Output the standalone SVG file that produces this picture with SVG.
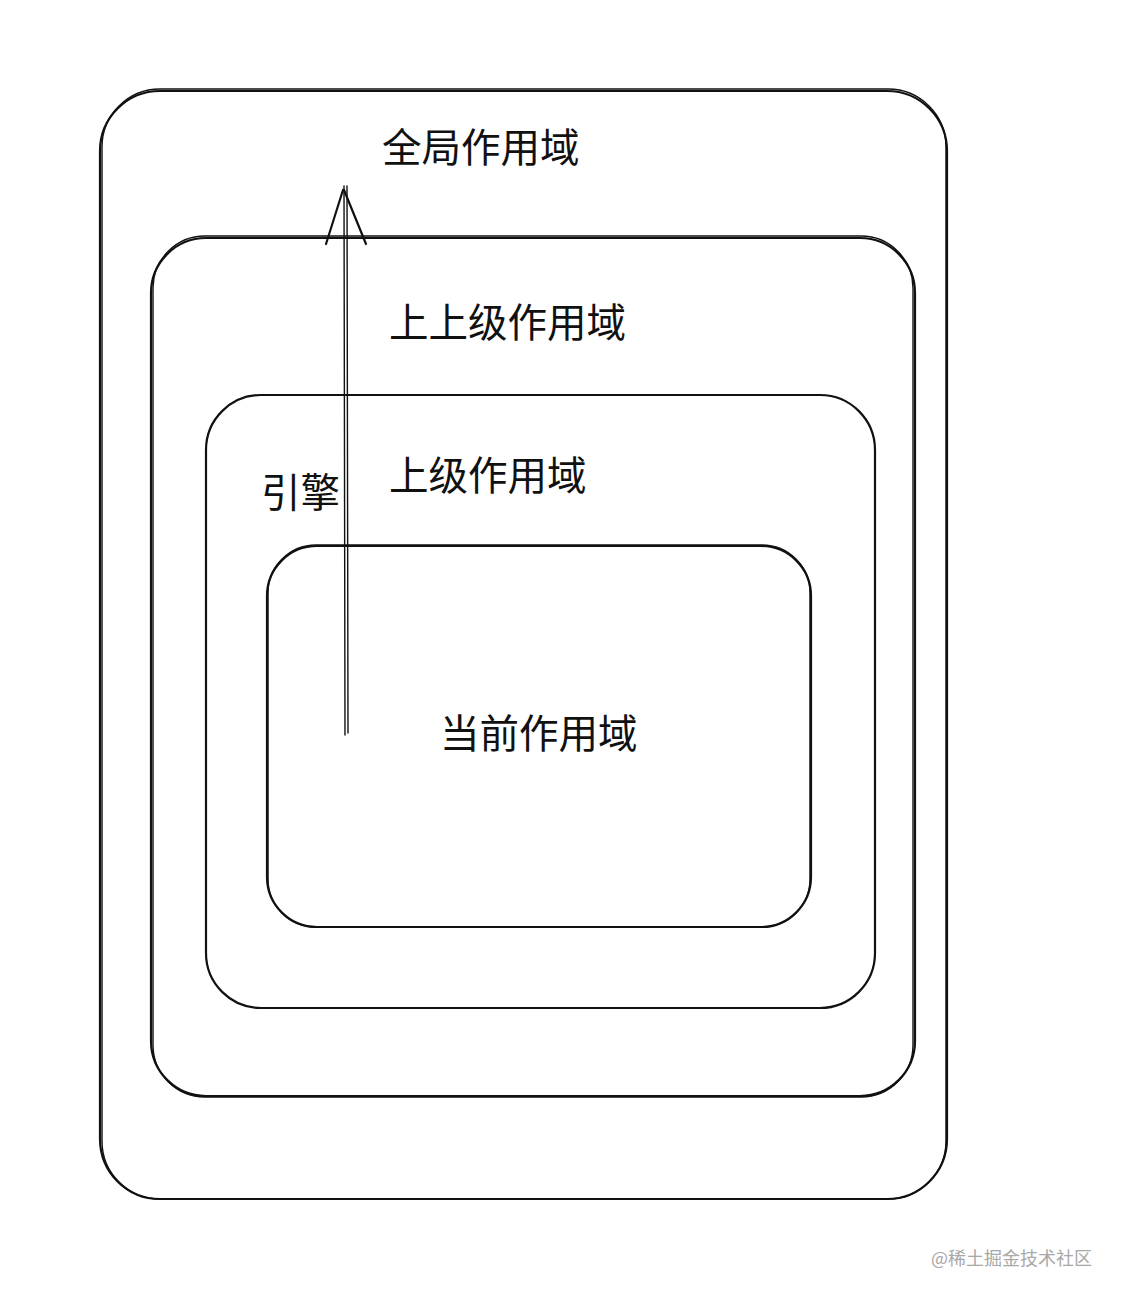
<svg xmlns="http://www.w3.org/2000/svg" width="1124" height="1302" viewBox="0 0 1124 1302">
<style>
.s{fill:none;stroke:#111;stroke-width:2.2;stroke-linecap:round;stroke-linejoin:round}
.s2{fill:none;stroke:#111;stroke-width:1.4;stroke-linecap:round}
.t{font-family:"Noto Sans CJK SC","Noto Sans",sans-serif;font-size:39.5px;font-weight:400;fill:#111}
.w{font-family:"Noto Sans CJK SC","Noto Sans",sans-serif;font-size:18px;fill:#a8a8a8}
</style>
<rect width="1124" height="1302" fill="#fff"/>
<g id="global">
<rect class="s" x="100" y="91" width="847" height="1108" rx="60"/>
<rect class="s2" x="102" y="89" width="844" height="1110" rx="58"/>
<text class="t" x="382" y="162">全局作用域</text>
</g>
<g id="grandparent">
<rect class="s" x="151" y="238" width="764" height="858" rx="55"/>
<rect class="s2" x="153" y="236" width="760" height="861" rx="52"/>
<text class="t" x="389" y="337">上上级作用域</text>
</g>
<g id="parent">
<rect class="s" x="206" y="395" width="669" height="613" rx="55"/>
<text class="t" x="389" y="490">上级作用域</text>
</g>
<g id="current">
<rect class="s" x="267" y="546" width="544" height="381" rx="50"/>
<rect class="s2" x="268" y="545" width="542" height="382" rx="48"/>
<text class="t" x="440" y="748">当前作用域</text>
</g>
<g id="connectors">
<line class="s2" x1="345" y1="735" x2="344" y2="186"/>
<line class="s2" x1="348" y1="733" x2="347" y2="186"/>
<line class="s" x1="343" y1="190" x2="326" y2="244"/>
<line class="s" x1="344" y1="190" x2="366" y2="244"/>
<text class="t" x="261" y="507">引擎</text>
</g>
<text class="w" x="931" y="1265">@稀土掘金技术社区</text>
</svg>
